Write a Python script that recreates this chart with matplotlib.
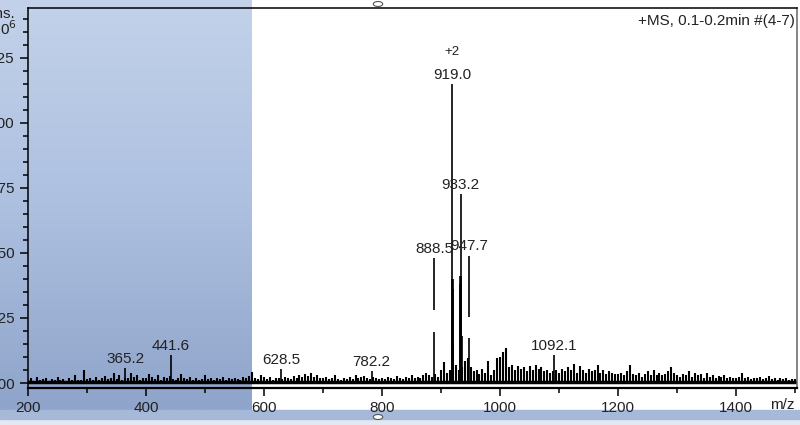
import numpy as np
import matplotlib
matplotlib.use("Agg")
import matplotlib.pyplot as plt
from matplotlib.ticker import MultipleLocator, FormatStrFormatter
from matplotlib.colors import LinearSegmentedColormap
from matplotlib.patches import Rectangle, Circle

# ---- data (intensity in units of 10^6) ----
noise_mz = np.arange(200, 1505, 5)
noise_int = [
    # 200-295
    0.012, 0.018, 0.008, 0.022, 0.010, 0.015, 0.020, 0.007, 0.016, 0.012,
    0.025, 0.010, 0.014, 0.009, 0.018, 0.011, 0.032, 0.013, 0.010, 0.050,
    # 300-395
    0.015, 0.020, 0.010, 0.024, 0.012, 0.018, 0.028, 0.014, 0.020, 0.040,
    0.016, 0.030, 0.012, 0.020, 0.018, 0.040, 0.022, 0.030, 0.012, 0.020,
    # 400-495
    0.018, 0.035, 0.025, 0.015, 0.030, 0.012, 0.022, 0.018, 0.028, 0.015,
    0.012, 0.020, 0.035, 0.018, 0.014, 0.022, 0.012, 0.018, 0.010, 0.016,
    # 500-595
    0.030, 0.014, 0.018, 0.012, 0.020, 0.015, 0.022, 0.010, 0.018, 0.014,
    0.020, 0.016, 0.012, 0.024, 0.018, 0.028, 0.042, 0.020, 0.015, 0.030,
    # 600-695
    0.022, 0.016, 0.025, 0.012, 0.020, 0.018, 0.014, 0.022, 0.020, 0.015,
    0.026, 0.018, 0.030, 0.022, 0.035, 0.028, 0.038, 0.025, 0.032, 0.020,
    # 700-795
    0.018, 0.025, 0.014, 0.020, 0.030, 0.015, 0.012, 0.020, 0.016, 0.024,
    0.014, 0.030, 0.018, 0.022, 0.028, 0.020, 0.016, 0.025, 0.018, 0.014,
    # 800-895
    0.020, 0.016, 0.024, 0.018, 0.014, 0.028, 0.020, 0.015, 0.022, 0.018,
    0.030, 0.020, 0.025, 0.018, 0.032, 0.040, 0.030, 0.022, 0.035, 0.025,
    # 900-995
    0.050, 0.080, 0.040, 0.050, 0.060, 0.070, 0.050, 0.060, 0.085, 0.095,
    0.060, 0.045, 0.050, 0.035, 0.055, 0.040, 0.085, 0.030, 0.050, 0.095,
    # 1000-1095
    0.100, 0.120, 0.135, 0.060, 0.070, 0.050, 0.065, 0.055, 0.060, 0.045,
    0.065, 0.050, 0.070, 0.055, 0.060, 0.045, 0.050, 0.040, 0.045, 0.050,
    # 1100-1195
    0.040, 0.055, 0.045, 0.060, 0.050, 0.075, 0.040, 0.065, 0.050, 0.040,
    0.055, 0.045, 0.050, 0.070, 0.040, 0.050, 0.035, 0.045, 0.040, 0.035,
    # 1200-1295
    0.035, 0.040, 0.030, 0.045, 0.070, 0.035, 0.030, 0.040, 0.025, 0.035,
    0.045, 0.030, 0.050, 0.030, 0.040, 0.030, 0.035, 0.045, 0.060, 0.040,
    # 1300-1395
    0.030, 0.025, 0.035, 0.030, 0.045, 0.025, 0.040, 0.030, 0.035, 0.020,
    0.040, 0.025, 0.030, 0.020, 0.028, 0.022, 0.030, 0.020, 0.025, 0.018,
    # 1400-1500
    0.020, 0.025, 0.040, 0.018, 0.022, 0.015, 0.020, 0.018, 0.025, 0.015,
    0.020, 0.028, 0.015, 0.020, 0.012, 0.018, 0.015, 0.020, 0.012, 0.016,
    0.014,
]

peak_mz = [365.2, 441.6, 628.5, 782.2, 917.6, 918.3, 919.0, 919.5, 920.1,
           920.6, 932.1, 932.6, 933.2, 933.7, 934.3, 934.8, 1092.1]
peak_int = [0.058, 0.108, 0.054, 0.046, 0.25, 0.40, 1.15, 0.40, 0.36,
            0.15, 0.38, 0.41, 0.727, 0.41, 0.40, 0.18, 0.107]

# peaks whose stick is interrupted in the original display
split_mz = [888.5, 947.7]
split_int = [0.48, 0.49]
split_lo = [0.196, 0.173]
split_hi = [0.28, 0.254]

label_mz = [365.2, 441.6, 628.5, 782.2, 888.5, 919.0, 933.2, 947.7, 1092.1]
label_int = [0.058, 0.108, 0.054, 0.046, 0.48, 1.15, 0.727, 0.49, 0.107]
charge_mz = 919.0
charge_text = "+2"
title_text = "+MS, 0.1-0.2min #(4-7)"

plt.rcParams['font.family'] = ['Liberation Sans', 'DejaVu Sans']
W, H = 800, 425
fig = plt.figure(figsize=(W / 100, H / 100), dpi=100)

def fx(px):
    return px / W

def fy(py):
    return 1 - py / H

# shaded selection on the left
bg = fig.add_axes([0, fy(410), fx(252), 410 / H], zorder=0)
cmap = LinearSegmentedColormap.from_list('sel', ['#c3d2ea', '#adc0e0', '#8fa4ca'])
bg.imshow(np.linspace(0, 1, 256)[:, None], aspect='auto', cmap=cmap)
bg.axis('off')

# bottom scroll bar
fig.patches.append(Rectangle((0, 0), 1, fy(419), transform=fig.transFigure,
                             color='#e4e9f1', zorder=0))
fig.patches.append(Rectangle((0, fy(419)), 1, 9 / H, transform=fig.transFigure,
                             color='#a7b9d9', zorder=0))
for yy in (4, 417):
    fig.patches.append(Circle((fx(378), fy(yy)), 2.5 / H, transform=fig.transFigure,
                              facecolor='white', edgecolor='#555555', lw=0.8, zorder=5))

ax = fig.add_axes([fx(28), fy(388), fx(797) - fx(28), (388 - 8) / H], zorder=1)
ax.patch.set_visible(False)

ax.axhline(0.005, color='black', lw=2.5)
ax.vlines(noise_mz, 0, noise_int, color='black', lw=1.5)
ax.vlines(peak_mz, 0, peak_int, color='black', lw=1.2)
ax.vlines(split_mz, 0, split_lo, color='black', lw=1.2)
ax.vlines(split_mz, split_hi, split_int, color='black', lw=1.2)

for m, v in zip(label_mz, label_int):
    ax.annotate("%.1f" % m, xy=(m, v), xytext=(0, 1.5), textcoords='offset points',
                ha='center', va='bottom', fontsize=11, color='#222222')
ax.annotate(charge_text, xy=(charge_mz, max(peak_int)), xytext=(0, 19),
            textcoords='offset points', ha='center', va='bottom', fontsize=9.5,
            color='#222222')
ax.text(0.997, 0.985, title_text, transform=ax.transAxes, ha='right', va='top',
        fontsize=11, color='#222222')

ax.set_xlim(200, 1503)
ax.set_ylim(-0.0192, 1.442)
ax.xaxis.set_major_locator(MultipleLocator(200))
ax.xaxis.set_minor_locator(MultipleLocator(100))
ax.yaxis.set_major_locator(MultipleLocator(0.25))
ax.yaxis.set_minor_locator(MultipleLocator(0.05))
ax.yaxis.set_major_formatter(FormatStrFormatter('%.2f'))
ax.xaxis.set_major_formatter(FormatStrFormatter('%d'))
ax.tick_params(axis='both', which='major', direction='out', length=6, width=1.1,
               labelsize=11, labelcolor='#222222', pad=3.5)
ax.tick_params(axis='both', which='minor', direction='out', length=3.5, width=1.1)
ax.tick_params(top=False, right=False)
for s in ax.spines.values():
    s.set_linewidth(1.1)
ax.spines['bottom'].set_linewidth(1.6)
ax.spines['right'].set_color('#666666')

ax.annotate('m/z', xy=(1, 0), xycoords='axes fraction', xytext=(-2, -12.5),
            textcoords='offset points', ha='right', va='center', fontsize=11,
            color='#222222')
fig.text(fx(15), fy(14), 'Intens.', ha='right', va='center', fontsize=11, color='#222222')
fig.text(fx(17), fy(29), 'x10$^6$', ha='right', va='center', fontsize=11, color='#222222')

fig.savefig('out.png', dpi=100)
